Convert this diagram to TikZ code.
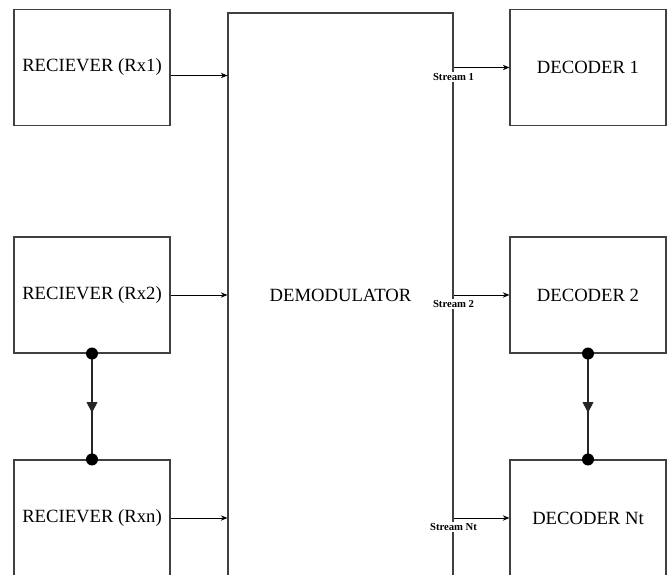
\documentclass[tikz,border=0pt]{standalone}
\usepackage{fontspec}
\setmainfont{Liberation Serif}
\usetikzlibrary{arrows.meta,decorations.markings}
\tikzset{
  blk/.style={draw=black!75,line width=0.8pt,minimum width=117pt,minimum height=87pt,inner sep=0pt,font=\fontsize{14}{16}\selectfont},
  link/.style={-{Stealth[length=5pt,width=4pt]},line width=0.6pt},
  chain/.style={draw=black!85,line width=0.8pt,postaction={decorate},decoration={markings,mark=at position 0.56 with {\arrow{Triangle[length=8pt,width=8pt]}}}},
  strm/.style={font=\fontsize{8}{9}\selectfont\bfseries,fill=white,inner sep=1pt}
}
\begin{document}
\begin{tikzpicture}[x=0.75pt,y=-0.75pt]
	\path[use as bounding box,clip] (0,0) rectangle (670,574);
	% receivers
	\node[blk] (rx1) at (92,67.5) {RECIEVER (Rx1)};
	\node[blk] (rx2) at (92,295) {RECIEVER (Rx2)};
	\node[blk] (rxn) at (92,518) {RECIEVER (Rxn)};
	% demodulator
	\node[blk,minimum width=168.75pt,minimum height=423pt] (demod) at (340.5,295) {DEMODULATOR};
	% decoders
	\node[blk] (dec1) at (588,67.5) {DECODER 1};
	\node[blk] (dec2) at (588,295) {DECODER 2};
	\node[blk] (decn) at (588,518) {DECODER Nt};
	% inputs
	\draw[link] ([yshift=-6pt]rx1.east) -- ([yshift=-6pt]rx1.east -| demod.west);
	\draw[link] (rx2.east) -- (rx2.east -| demod.west);
	\draw[link] (rxn.east) -- (rxn.east -| demod.west);
	% streams
	\draw[link] (dec1.west -| demod.east) coordinate (s1) -- (dec1.west);
	\draw[link] (dec2.west -| demod.east) coordinate (s2) -- (dec2.west);
	\draw[link] (decn.west -| demod.east) coordinate (sn) -- (decn.west);
	\node[strm,below=3pt] (l1) at (s1) {Stream 1};
	\node[strm,below=3pt] (l2) at (s2) {Stream 2};
	\node[strm,below=3pt] (ln) at (sn) {Stream Nt};
	% chained links
	\draw[chain] (rx2.south) -- (rxn.north);
	\draw[chain] (dec2.south) -- (decn.north);
	\fill (rx2.south) circle (4.5pt) (rxn.north) circle (4.5pt);
	\fill (dec2.south) circle (4.5pt) (decn.north) circle (4.5pt);
\end{tikzpicture}
\end{document}
